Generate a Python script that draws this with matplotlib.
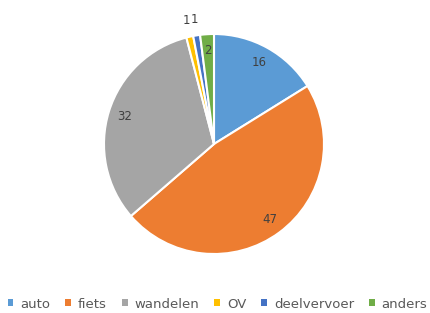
import numpy as np
import matplotlib.pyplot as plt
from matplotlib.patches import Patch

# data
categories = ['auto', 'fiets', 'wandelen', 'OV', 'deelvervoer', 'anders']
values = [16, 47, 32, 1, 1, 2]
colors = ['#5B9BD5', '#ED7D31', '#A5A5A5', '#FFC000', '#4472C4', '#70AD47']

W, H = 431, 313
fig = plt.figure(figsize=(W / 100, H / 100), dpi=100)

# pie axes placed in pixels: centre (214,144), radius 110
cx, cy, r = 214, 144, 110
ax = fig.add_axes([(cx - r) / W, (H - cy - r) / H, 2 * r / W, 2 * r / H])
wedges, _ = ax.pie(values, colors=colors, startangle=90, counterclock=False,
                   wedgeprops=dict(edgecolor='white', linewidth=1.5))
ax.set_xlim(-1, 1)
ax.set_ylim(-1, 1)
ax.set_aspect('equal')
ax.axis('off')

# data labels, small ones outside the pie
for w, v in zip(wedges, values):
    mid = np.deg2rad((w.theta1 + w.theta2) / 2)
    d = 0.85 if v >= 2 else 1.15
    ax.text(d * np.cos(mid), d * np.sin(mid), str(v), ha='center', va='center',
            fontsize=8.5, color='#404040')

handles = [Patch(facecolor=c, edgecolor='none') for c in colors]
fig.legend(handles, categories, loc='center', bbox_to_anchor=(217.5 / W, 1 - 304 / H),
           ncol=6, frameon=False, fontsize=9.5, labelcolor='#595959',
           handlelength=0.45, handleheight=0.45, handletextpad=0.5,
           columnspacing=1.15, borderpad=0)

fig.savefig('out.png', dpi=100)
